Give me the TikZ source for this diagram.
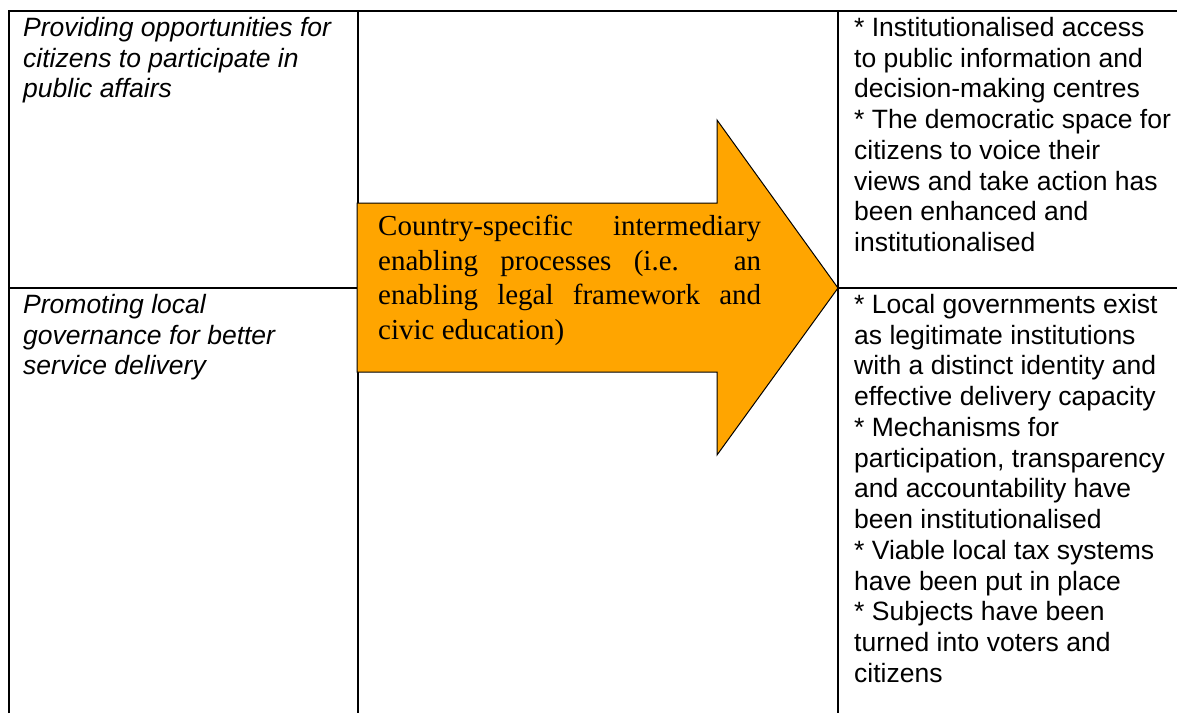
\documentclass[tikz,border=0pt]{standalone}
\usepackage{fontspec}
\setmainfont{Liberation Sans}
\newfontfamily\timesfont{Liberation Serif}
\usepackage{xcolor}
\usepackage{tikz}
\definecolor{arroworange}{RGB}{255,165,0}
\tikzset{
    cellline/.style={line width=1.6pt},
    celltext/.style={inner sep=0pt, anchor=north west, align=left, font={\fontsize{26.5}{30.75}\selectfont}},
    aimtext/.style={celltext, font={\fontsize{26.5}{30.75}\selectfont\itshape}},
    processtext/.style={inner sep=0pt, anchor=north west, text width=383pt, align=justify, font={\timesfont\fontsize{29}{34.6}\selectfont}},
    bigarrow/.style={draw, fill=arroworange, line width=1pt, line join=miter}
}

\begin{document}
\begin{tikzpicture}[x=1pt, y=-1pt]
    \useasboundingbox (0,0) rectangle (1177,713);
    % grid of the table
    \draw[cellline] (9,713) -- (9,11) -- (1177,11);
    \draw[cellline] (358,11) -- (358,713);
    \draw[cellline] (838,11) -- (838,713);
    \draw[cellline] (9,288) -- (1177,288);
    % the arrow in the middle column
    \draw[bigarrow] (357,203) -- (717,203) -- (717,120) -- (838,288) -- (717,455) -- (717,372) -- (357,372) -- cycle;

    \node[aimtext] (aimone) at (23,17) {Providing opportunities for\\citizens to participate in\\public affairs};
    \node[aimtext] (aimtwo) at (23,294) {Promoting local\\governance for better\\service delivery};
    \node[processtext] (process) at (378,215) {Country-specific intermediary\linebreak enabling processes (i.e. an\linebreak enabling legal framework and\linebreak civic education)};
    \node[celltext] (resultone) at (854,17) {* Institutionalised access\\to public information and\\decision-making centres\\* The democratic space for\\citizens to voice their\\views and take action has\\been enhanced and\\institutionalised};
    \node[celltext] (resulttwo) at (854,294) {* Local governments exist\\as legitimate institutions\\with a distinct identity and\\effective delivery capacity\\* Mechanisms for\\participation, transparency\\and accountability have\\been institutionalised\\* Viable local tax systems\\have been put in place\\* Subjects have been\\turned into voters and\\citizens};
\end{tikzpicture}
\end{document}
